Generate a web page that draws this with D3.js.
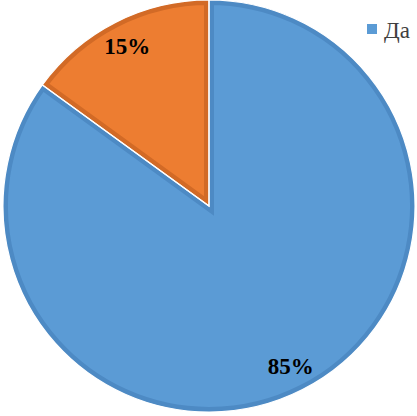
<!DOCTYPE html>
<html><head><meta charset="utf-8">
<script src="https://cdn.jsdelivr.net/npm/d3@7/dist/d3.min.js"></script>
<style>body{margin:0;background:#fff}svg{display:block}</style>
</head><body>
<svg id="c" width="417" height="416"></svg>
<script>
const categories = ["Да", "Нет"];
const values = [85, 15];
const labels = ["85%", "15%"];
const legendItems = ["Да"];

const fills = ["#5b9bd5", "#ed7d31"];
const edges = ["#4d8ac4", "#d26a26"];
const serif = "'Liberation Serif', 'Times New Roman', serif";
const svg = d3.select("#c");
const cx = 209, cy = 206, R = 206;
const pie = d3.pie().sort(null).value(d => d)(values);
const arc = d3.arc().innerRadius(0).outerRadius(R);
const lab = d3.arc().innerRadius(180).outerRadius(180);
const g = svg.append("g").attr("transform", `translate(${cx},${cy})`);
const defs = svg.append("defs");
pie.forEach((p, i) => {
  defs.append("clipPath").attr("id", "cl" + i).append("path").attr("d", arc(p));
});
g.selectAll("path.s").data(pie).join("path").attr("class", "s")
  .attr("d", arc).attr("fill", (d, i) => fills[i])
  .attr("stroke", (d, i) => edges[i]).attr("stroke-width", 10)
  .attr("clip-path", (d, i) => `url(#cl${i})`);
g.selectAll("path.w").data(pie).join("path").attr("class", "w")
  .attr("d", arc).attr("fill", "none").attr("stroke", "#fff").attr("stroke-width", 1.2);
g.selectAll("text").data(pie).join("text")
  .attr("transform", d => `translate(${lab.centroid(d)})`)
  .attr("text-anchor", "middle").attr("dy", "0.35em")
  .style("font-family", serif)
  .attr("font-weight", "bold").attr("font-size", 23).attr("fill", "#000")
  .text((d, i) => labels[i]);
const lg = svg.append("g");
legendItems.forEach((t, i) => {
  lg.append("rect").attr("x", 367).attr("y", 24 + i * 24).attr("width", 10).attr("height", 10).attr("fill", fills[i]);
  lg.append("text").attr("x", 384).attr("y", 38 + i * 24)
    .style("font-family", serif).attr("font-size", 23)
    .attr("fill", "#404040").text(t);
});
</script>
</body></html>
